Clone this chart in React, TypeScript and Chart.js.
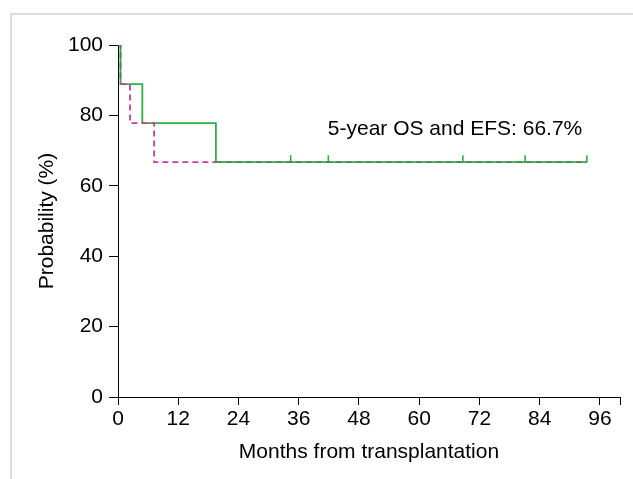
import React, { useEffect, useRef } from "react";
import { Chart, registerables } from "chart.js";

Chart.register(...registerables);

// Kaplan-Meier step points (months, %)
const osMonths = [0, 0.5, 4.85, 19.5, 93.4];
const osValues = [100, 88.9, 77.8, 66.7, 66.7];
const efsMonths = [0, 0.5, 2.4, 7.2, 19.5, 93.4];
const efsValues = [100, 88.9, 77.8, 66.7, 66.7, 66.7];
const censorMonths = [34.4, 41.9, 68.7, 81.1, 93.4];
const censorValues = [66.7, 66.7, 66.7, 66.7, 66.7];
const xTickValues = [0, 12, 24, 36, 48, 60, 72, 84, 96, 100];
const xTickLabels = ["0", "12", "24", "36", "48", "60", "72", "84", "96", ""];
const yTickValues = [0, 20, 40, 60, 80, 100];
const annotationText = "5-year OS and EFS: 66.7%";
const annotationAt = { x: 41.8, y: 76.2 };

const GREEN = "#33ad45";
const MAGENTA = "#c23f9e";
const OVERLAP = "#4f8058";
const FONT = "'Liberation Sans', Arial, sans-serif";
const FS = 21;

export default function App() {
  const ref = useRef<HTMLCanvasElement | null>(null);

  useEffect(() => {
    if (!ref.current) return;
    const framePlugin = {
      id: "frame",
      beforeDraw(chart: any) {
        const ctx = chart.ctx;
        ctx.save();
        ctx.fillStyle = "#ffffff";
        ctx.fillRect(0, 0, chart.width, chart.height);
        ctx.strokeStyle = "#dcdcdc";
        ctx.lineWidth = 2;
        ctx.strokeRect(11, 14, 800, 700);
        ctx.restore();
      },
      afterDatasetsDraw(chart: any) {
        const ctx = chart.ctx;
        const x = chart.scales.x.getPixelForValue(annotationAt.x);
        const y = chart.scales.y.getPixelForValue(annotationAt.y);
        ctx.save();
        ctx.fillStyle = "#000";
        ctx.font = `${FS}px ${FONT}`;
        ctx.textAlign = "left";
        ctx.textBaseline = "middle";
        ctx.fillText(annotationText, x, y);
        ctx.restore();
      },
    };

    const overlapSegments = [0, efsMonths.length - 2];

    const chart = new Chart(ref.current, {
      type: "line",
      data: {
        datasets: [
          {
            label: "EFS",
            data: efsMonths.map((m, i) => ({ x: m, y: efsValues[i] })),
            stepped: "before",
            borderColor: MAGENTA,
            borderWidth: 1.8,
            borderDash: [6, 4],
            pointRadius: 0,
            fill: false,
            order: 0,
            segment: {
              borderColor: (ctx: any) => (overlapSegments.includes(ctx.p0DataIndex) ? OVERLAP : MAGENTA),
            },
          } as any,
          {
            label: "OS",
            data: osMonths.map((m, i) => ({ x: m, y: osValues[i] })),
            stepped: "before",
            borderColor: GREEN,
            borderWidth: 1.8,
            pointRadius: 0,
            fill: false,
            order: 1,
          } as any,
          {
            label: "Censored",
            data: censorMonths.map((m, i) => ({ x: m, y: censorValues[i] })),
            showLine: false,
            pointStyle: "dash",
            pointRotation: 270,
            pointRadius: 7,
            pointBorderColor: GREEN,
            pointBorderWidth: 1.6,
            borderColor: GREEN,
            order: 2,
          } as any,
        ],
      },
      options: {
        responsive: false,
        animation: false,
        layout: { padding: { left: 0, top: 45, right: 13, bottom: 0 } },
        plugins: { legend: { display: false }, tooltip: { enabled: false } },
        scales: {
          x: {
            type: "linear",
            min: 0,
            max: 100,
            afterBuildTicks: (scale: any) => {
              scale.ticks = xTickValues.map((v) => ({ value: v }));
            },
            afterFit: (scale: any) => {
              scale.height = 82;
            },
            ticks: {
              autoSkip: false,
              maxRotation: 0,
              padding: 2,
              color: "#000",
              font: { family: FONT, size: FS },
              callback: (v: any) => {
                const i = xTickValues.indexOf(Number(v));
                return i >= 0 ? xTickLabels[i] : "";
              },
            },
            grid: { display: true, drawOnChartArea: false, drawTicks: true, tickLength: 8, color: "#000", lineWidth: 1 },
            border: { display: true, color: "#000", width: 1 },
            title: {
              display: true,
              text: "Months from transplantation",
              color: "#000",
              font: { family: FONT, size: FS, lineHeight: 1.2 },
              padding: { top: 0, bottom: 14 },
            },
          },
          y: {
            type: "linear",
            min: 0,
            max: 100,
            afterBuildTicks: (scale: any) => {
              scale.ticks = yTickValues.map((v) => ({ value: v }));
            },
            afterFit: (scale: any) => {
              scale.width = 118;
            },
            ticks: {
              padding: 6,
              color: "#000",
              font: { family: FONT, size: FS },
            },
            grid: { display: true, drawOnChartArea: false, drawTicks: true, tickLength: 9, color: "#000", lineWidth: 1 },
            border: { display: true, color: "#000", width: 1 },
            title: {
              display: true,
              text: "Probability (%)",
              color: "#000",
              font: { family: FONT, size: FS, lineHeight: 1.2 },
              padding: { top: 35, bottom: 0 },
            },
          },
        },
      },
      plugins: [framePlugin],
    } as any);
    return () => chart.destroy();
  }, []);

  return (
    <canvas
      ref={ref}
      width={633}
      height={479}
      style={{ position: "fixed", left: 0, top: 0, display: "block", width: 633, height: 479 }}
    />
  );
}
